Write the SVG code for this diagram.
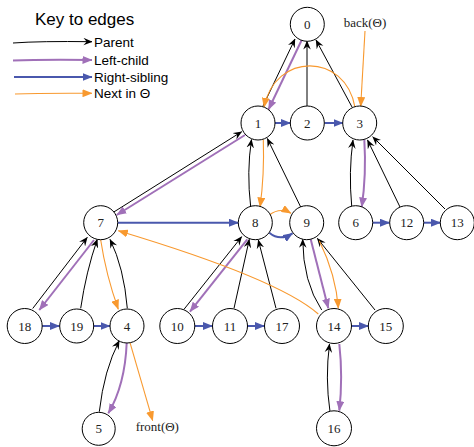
<svg xmlns="http://www.w3.org/2000/svg" width="474" height="447" viewBox="0 0 474 447">
<style>
.node circle{fill:#fff;stroke:#000;stroke-width:1}
.node text{font-family:"Liberation Serif","Times New Roman",serif;font-size:13px;text-anchor:middle;fill:#222}
.p{fill:none;stroke:#000;stroke-width:1;marker-end:url(#aBlack)}
.lc{fill:none;stroke:#a070b8;stroke-width:2;marker-end:url(#aPurple)}
.rs{fill:none;stroke:#4a58ad;stroke-width:2;marker-end:url(#aBlue)}
.nx{fill:none;stroke:#f8992f;stroke-width:1.1;marker-end:url(#aOrange)}
.key{font-family:"Liberation Sans",Arial,sans-serif;font-size:13.5px;fill:#000}
.lbl{font-family:"Liberation Serif","Times New Roman",serif;font-size:13px;fill:#222;text-anchor:middle}
</style>
<defs>
<marker id="aBlack" viewBox="0 0 10 9" refX="9.5" refY="4.5" markerWidth="9" markerHeight="8.1" markerUnits="userSpaceOnUse" orient="auto"><path d="M0,0.3 L10,4.5 L0,8.7 L3.5,4.5 Z" fill="#000"/></marker>
<marker id="aPurple" viewBox="0 0 10 8" refX="9.5" refY="4" markerWidth="10" markerHeight="8" markerUnits="userSpaceOnUse" orient="auto"><path d="M0,0 L10,4 L0,8 Z" fill="#a070b8"/></marker>
<marker id="aBlue" viewBox="0 0 10 8" refX="9.5" refY="4" markerWidth="10" markerHeight="8" markerUnits="userSpaceOnUse" orient="auto"><path d="M0,0 L10,4 L0,8 Z" fill="#4a58ad"/></marker>
<marker id="aOrange" viewBox="0 0 10 8" refX="9.5" refY="4" markerWidth="10" markerHeight="8" markerUnits="userSpaceOnUse" orient="auto"><path d="M0,0 L10,4 L0,8 Z" fill="#f8992f"/></marker>
</defs>
<rect width="474" height="447" fill="#fff"/>

<g id="legend">
<text class="key" x="35" y="25" style="font-size:17px">Key to edges</text>
<path class="p" d="M13,43 Q40,41 92,41.7"/>
<text class="key" x="94" y="46.5">Parent</text>
<path class="lc" d="M13,60.5 Q40,59.5 92,60"/>
<text class="key" x="94" y="64.5">Left-child</text>
<path class="rs" d="M14,77 L92,77"/>
<text class="key" x="94" y="81.5">Right-sibling</text>
<path class="nx" d="M15,94 Q40,93 92,93.3"/>
<text class="key" x="94" y="98">Next in Θ</text>
</g>

<g id="connectors">
<!-- parent -->
<path class="p" d="M263,106 L295,39"/>
<path class="p" d="M307,106 L307,41"/>
<path class="p" d="M352,107 L316,40"/>
<path class="p" d="M351.7,206 Q348.5,172 353,140"/>
<path class="p" d="M400,207 L367.5,140"/>
<path class="p" d="M445,209 L372.7,136.7"/>
<path class="p" d="M113,212.5 L241.7,131.7"/>
<path class="p" d="M250.7,207 Q246.5,172 251.5,139.5"/>
<path class="p" d="M300.7,207 L267.3,138.5"/>
<path class="p" d="M32.7,308.5 L87.3,237.3"/>
<path class="p" d="M80.7,308.3 Q86,272 97.3,239.3"/>
<path class="p" d="M127.3,308.3 Q124,268 110,239.3"/>
<path class="p" d="M184,309.3 L241.7,236.7"/>
<path class="p" d="M234,308.3 L249.3,239.3"/>
<path class="p" d="M276,308.3 L258.3,240"/>
<path class="p" d="M321.7,310 Q303,282 302.7,239.3"/>
<path class="p" d="M375,310 L317.3,238.3"/>
<path class="p" d="M99.3,411.7 Q104,370 119.3,340.7"/>
<path class="p" d="M330,411.7 Q325,378 329.5,344"/>
<!-- left-child -->
<path class="lc" d="M301.7,40 L268.5,109.5"/>
<path class="lc" d="M364.3,139.5 Q366.5,175 361.7,207"/>
<path class="lc" d="M245,135 L116.7,215"/>
<path class="lc" d="M94,240 L39.3,310"/>
<path class="lc" d="M247.3,239.3 L190,311.7"/>
<path class="lc" d="M310.7,239.3 L328.3,308.3"/>
<path class="lc" d="M126.7,342.7 Q125,385 108.3,413.3"/>
<path class="lc" d="M339.3,344 Q343,377 339.3,410.7"/>
<!-- right-sibling -->
<path class="rs" d="M275,123 L290.5,123"/>
<path class="rs" d="M324.5,123 L343,123"/>
<path class="rs" d="M373,222.7 L389.5,222.7"/>
<path class="rs" d="M424,222.7 L440.5,222.7"/>
<path class="rs" d="M118,222.7 L238.5,222.7"/>
<path class="rs" d="M269.3,232.7 Q280,241.6 292.5,233.3"/>
<path class="rs" d="M42,326 L59.5,326"/>
<path class="rs" d="M94,326 L110,326"/>
<path class="rs" d="M195,326 L212.5,326"/>
<path class="rs" d="M247,326 L264.5,326"/>
<path class="rs" d="M351.5,326 L368.5,326"/>
<!-- next in theta -->
<path class="nx" d="M365,31 L360.7,106.5"/>
<path class="nx" d="M355,107.3 C345,52 275,52 264,107.3"/>
<path class="nx" d="M263.3,139.5 Q264.5,175 260,207"/>
<path class="nx" d="M269.3,215 Q280,207 291,213.3"/>
<path class="nx" d="M319.3,240.7 Q336,275 338.3,308.3"/>
<path class="nx" d="M318.3,314 Q279,279 118.3,230.7"/>
<path class="nx" d="M100.7,240 Q106,275 118.3,309.3"/>
<path class="nx" d="M130,342.7 L152.7,420.7"/>
</g>

<g id="node-0" class="node"><circle cx="307.3" cy="24.3" r="17"/><text x="307.3" y="28.8">0</text></g>
<g id="node-1" class="node"><circle cx="258" cy="123" r="17"/><text x="258" y="127.5">1</text></g>
<g id="node-2" class="node"><circle cx="307.3" cy="123" r="17"/><text x="307.3" y="127.5">2</text></g>
<g id="node-3" class="node"><circle cx="359.7" cy="123" r="17"/><text x="359.7" y="127.5">3</text></g>
<g id="node-6" class="node"><circle cx="355.7" cy="222.7" r="17"/><text x="355.7" y="227.2">6</text></g>
<g id="node-12" class="node"><circle cx="406.7" cy="222.7" r="17"/><text x="406.7" y="227.2">12</text></g>
<g id="node-13" class="node"><circle cx="457.3" cy="222.7" r="17"/><text x="457.3" y="227.2">13</text></g>
<g id="node-7" class="node"><circle cx="100.7" cy="222.7" r="17"/><text x="100.7" y="227.2">7</text></g>
<g id="node-8" class="node"><circle cx="255.3" cy="222.7" r="17"/><text x="255.3" y="227.2">8</text></g>
<g id="node-9" class="node"><circle cx="306.7" cy="222.7" r="17"/><text x="306.7" y="227.2">9</text></g>
<g id="node-18" class="node"><circle cx="24.7" cy="326" r="17.5"/><text x="24.7" y="330.5">18</text></g>
<g id="node-19" class="node"><circle cx="76.7" cy="326" r="17"/><text x="76.7" y="330.5">19</text></g>
<g id="node-4" class="node"><circle cx="127" cy="326" r="17"/><text x="127" y="330.5">4</text></g>
<g id="node-10" class="node"><circle cx="177.3" cy="326" r="17.5"/><text x="177.3" y="330.5">10</text></g>
<g id="node-11" class="node"><circle cx="230" cy="326" r="17.5"/><text x="230" y="330.5">11</text></g>
<g id="node-17" class="node"><circle cx="282" cy="326" r="17.5"/><text x="282" y="330.5">17</text></g>
<g id="node-14" class="node"><circle cx="334" cy="326" r="17.5"/><text x="334" y="330.5">14</text></g>
<g id="node-15" class="node"><circle cx="385.8" cy="326" r="17.5"/><text x="385.8" y="330.5">15</text></g>
<g id="node-5" class="node"><circle cx="98.7" cy="428.8" r="16.5"/><text x="98.7" y="433.3">5</text></g>
<g id="node-16" class="node"><circle cx="334" cy="428.3" r="17.5"/><text x="334" y="432.8">16</text></g>

<g id="label-front"><text class="lbl" x="157.3" y="431">front(Θ)</text></g>
<g id="label-back"><text class="lbl" x="365" y="27">back(Θ)</text></g>
</svg>
